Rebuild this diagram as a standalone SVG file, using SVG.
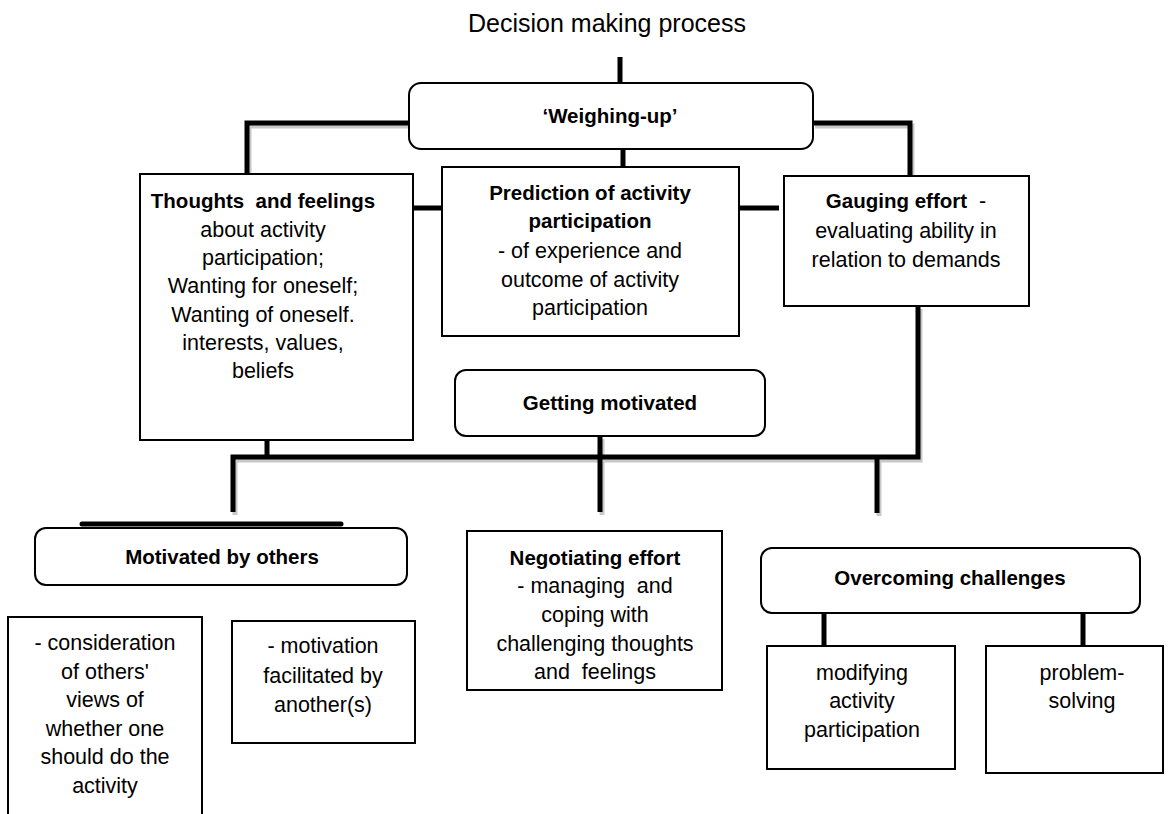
<svg xmlns="http://www.w3.org/2000/svg" width="1170" height="814" viewBox="0 0 1170 814">
  <style>
    .box { fill: #ffffff; stroke: #000000; stroke-width: 2; }
    .wire { fill: none; stroke: #000000; stroke-width: 5; }
    .shade { fill: none; stroke: #c8c8c8; stroke-width: 5; }
    text { font-family: "Liberation Sans", Arial, sans-serif; fill: #000000; text-anchor: middle; white-space: pre; }
    .t { font-size: 21.5px; }
    .b { font-size: 20.5px; font-weight: bold; }
    .title { font-size: 25px; }
  </style>

  <!-- connectors: grey drop shade under black bars -->
  <g id="connectors">
    <g class="shade" transform="translate(2,3)">
      <path d="M409,123 H247 V174"/>
      <path d="M813,123 H910 V176"/>
      <path d="M233,512 V457 H918 V306"/>
      <path d="M600,436 V512"/>
      <path d="M877,457 V513"/>
    </g>
    <g class="wire">
      <path d="M620,57 V83"/>
      <path d="M409,123 H247 V174"/>
      <path d="M813,123 H910 V176"/>
      <path d="M623,149 V167"/>
      <path d="M413,208 H442"/>
      <path d="M739,208 H779"/>
      <path d="M233,512 V457 H918 V306"/>
      <path d="M267,440 V457"/>
      <path d="M600,436 V512"/>
      <path d="M877,457 V513"/>
      <path d="M82,524 H341" stroke-linecap="round"/>
      <path d="M824,613 V646"/>
      <path d="M1083,613 V646"/>
    </g>
  </g>

  <g id="title">
    <text class="title" x="607" y="32">Decision making process</text>
  </g>

  <g id="weighing-up">
    <rect class="box" x="409" y="83" width="404" height="66" rx="12"/>
    <text class="b" x="610" y="123">‘Weighing-up’</text>
  </g>

  <g id="thoughts-feelings">
    <rect class="box" x="140" y="174" width="273" height="266"/>
    <text class="b" x="263" y="208" xml:space="preserve">Thoughts  and feelings</text>
    <text class="t" x="263" y="237">about activity</text>
    <text class="t" x="263" y="265">participation;</text>
    <text class="t" x="263" y="293">Wanting for oneself;</text>
    <text class="t" x="263" y="322">Wanting of oneself.</text>
    <text class="t" x="263" y="350">interests, values,</text>
    <text class="t" x="263" y="378">beliefs</text>
  </g>

  <g id="prediction">
    <rect class="box" x="442" y="167" width="297" height="169"/>
    <text class="b" x="590" y="200">Prediction of activity</text>
    <text class="b" x="590" y="228">participation</text>
    <text class="t" x="590" y="258">- of experience and</text>
    <text class="t" x="590" y="287">outcome of activity</text>
    <text class="t" x="590" y="315">participation</text>
  </g>

  <g id="gauging-effort">
    <rect class="box" x="784" y="176" width="245" height="130"/>
    <text class="t" x="906" y="208" xml:space="preserve"><tspan font-weight="bold" font-size="20.5px">Gauging effort</tspan>  -</text>
    <text class="t" x="906" y="238">evaluating ability in</text>
    <text class="t" x="906" y="267">relation to demands</text>
  </g>

  <g id="getting-motivated">
    <rect class="box" x="455" y="370" width="310" height="66" rx="11"/>
    <text class="b" x="610" y="410">Getting motivated</text>
  </g>

  <g id="motivated-by-others">
    <rect class="box" x="35" y="528" width="372" height="57" rx="11"/>
    <text class="b" x="222" y="564">Motivated by others</text>
  </g>

  <g id="others-views">
    <rect class="box" x="8" y="617" width="194" height="210"/>
    <text class="t" x="105" y="650">- consideration</text>
    <text class="t" x="105" y="679">of others'</text>
    <text class="t" x="105" y="707">views of</text>
    <text class="t" x="105" y="736">whether one</text>
    <text class="t" x="105" y="764">should do the</text>
    <text class="t" x="105" y="793">activity</text>
  </g>

  <g id="facilitated">
    <rect class="box" x="232" y="621" width="183" height="122"/>
    <text class="t" x="323" y="653">- motivation</text>
    <text class="t" x="323" y="683">facilitated by</text>
    <text class="t" x="323" y="712">another(s)</text>
  </g>

  <g id="negotiating-effort">
    <rect class="box" x="467" y="531" width="255" height="159"/>
    <text class="b" x="595" y="565">Negotiating effort</text>
    <text class="t" x="595" y="593" xml:space="preserve">- managing  and</text>
    <text class="t" x="595" y="622">coping with</text>
    <text class="t" x="595" y="651">challenging thoughts</text>
    <text class="t" x="595" y="679" xml:space="preserve">and  feelings</text>
  </g>

  <g id="overcoming-challenges">
    <rect class="box" x="761" y="548" width="379" height="65" rx="11"/>
    <text class="b" x="950" y="585">Overcoming challenges</text>
  </g>

  <g id="modifying">
    <rect class="box" x="767" y="646" width="188" height="123"/>
    <text class="t" x="862" y="680">modifying</text>
    <text class="t" x="862" y="708">activity</text>
    <text class="t" x="862" y="737">participation</text>
  </g>

  <g id="problem-solving">
    <rect class="box" x="986" y="646" width="177" height="127"/>
    <text class="t" x="1082" y="680">problem-</text>
    <text class="t" x="1082" y="708">solving</text>
  </g>
</svg>
